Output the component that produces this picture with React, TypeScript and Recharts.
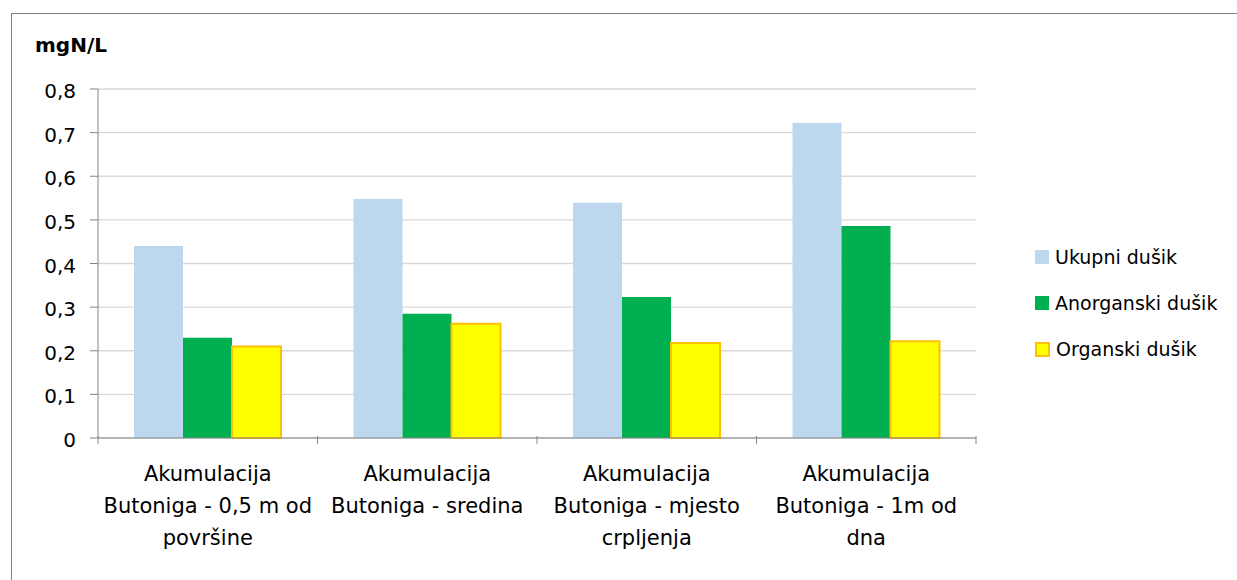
import { Bar, BarChart, CartesianGrid, Legend, XAxis, YAxis } from "recharts";

const categories = [
  "Akumulacija\nButoniga - 0,5 m od\npovršine",
  "Akumulacija\nButoniga - sredina",
  "Akumulacija\nButoniga - mjesto\ncrpljenja",
  "Akumulacija\nButoniga - 1m od\ndna",
];
const ukupni = [0.44, 0.548, 0.539, 0.722];
const anorganski = [0.23, 0.285, 0.323, 0.486];
const organski = [0.21, 0.262, 0.218, 0.222];
const yTicks = [0, 0.1, 0.2, 0.3, 0.4, 0.5, 0.6, 0.7, 0.8];

const series = [
  { key: "ukupni", name: "Ukupni dušik", fill: "#BDD7EE", stroke: "none" },
  { key: "anorganski", name: "Anorganski dušik", fill: "#00B050", stroke: "none" },
  { key: "organski", name: "Organski dušik", fill: "#FFFF00", stroke: "#FFC000" },
];

const data = categories.map((name, i) => ({
  name,
  ukupni: ukupni[i],
  anorganski: anorganski[i],
  organski: organski[i],
}));

const FONT = "'DejaVu Sans', sans-serif";
const AXIS = "#868686";

// category label plus Excel-style tick marks on the band edges
function CategoryTick({ x, y, payload, index, width }: any) {
  const lines = String(payload.value).split("\n");
  const half = width / categories.length / 2;
  const top = y - 10;
  return (
    <g>
      <line x1={x - half} x2={x - half} y1={top} y2={top + 8} stroke={AXIS} />
      {index === categories.length - 1 && (
        <line x1={x + half} x2={x + half} y1={top} y2={top + 8} stroke={AXIS} />
      )}
      <text x={x} y={y} textAnchor="middle" fontFamily={FONT} fontSize={21} fill="#000">
        {lines.map((line, i) => (
          <tspan key={i} x={x} y={y + 35 + i * 32}>
            {line}
          </tspan>
        ))}
      </text>
    </g>
  );
}

function LegendBox() {
  return (
    <div style={{ fontFamily: FONT, fontSize: 19, color: "#000" }}>
      {series.map((s) => (
        <div key={s.key} style={{ display: "flex", alignItems: "center", height: 46 }}>
          <span
            style={{
              display: "inline-block",
              width: s.stroke === "none" ? 14 : 11,
              height: s.stroke === "none" ? 14 : 11,
              background: s.fill,
              border: s.stroke === "none" ? "none" : `2px solid ${s.stroke}`,
              marginRight: 6,
            }}
          />
          <span>{s.name}</span>
        </div>
      ))}
    </div>
  );
}

export default function App() {
  return (
    <div
      style={{
        position: "absolute",
        left: 0,
        top: 0,
        width: 1237,
        height: 580,
        overflow: "hidden",
        background: "#fff",
      }}
    >
      <div
        style={{
          position: "absolute",
          left: 11,
          top: 13,
          width: 1400,
          height: 800,
          borderTop: "1px solid #808080",
          borderLeft: "1px solid #808080",
        }}
      />
      <div
        style={{
          position: "absolute",
          left: 35,
          top: 33,
          fontFamily: FONT,
          fontWeight: "bold",
          fontSize: 20,
        }}
      >
        mgN/L
      </div>
      <BarChart
        width={1237}
        height={580}
        data={data}
        margin={{ top: 89, right: 261, bottom: 0, left: 0 }}
        barSize={49}
        barGap={0}
        style={{ position: "absolute", left: 0, top: 0 }}
      >
        <CartesianGrid stroke="#D9D9D9" vertical={false} strokeWidth={1.3} />
        <XAxis
          dataKey="name"
          height={142}
          stroke={AXIS}
          tickLine={false}
          tick={<CategoryTick />}
          interval={0}
        />
        <YAxis
          width={98}
          domain={[0, 0.8]}
          ticks={yTicks}
          stroke={AXIS}
          tickSize={8}
          tickMargin={14}
          tickFormatter={(v: number) => String(v).replace(".", ",")}
          tick={{ fontFamily: FONT, fontSize: 20, fill: "#000", dy: 2 }}
        />
        <Legend
          layout="horizontal"
          align="center"
          verticalAlign="middle"
          wrapperStyle={{ left: 1035, top: 234, width: 200 }}
          content={<LegendBox />}
        />
        {series.map((s) => (
          <Bar
            key={s.key}
            dataKey={s.key}
            name={s.name}
            fill={s.fill}
            stroke={s.stroke}
            strokeWidth={s.stroke === "none" ? 0 : 2}
            isAnimationActive={false}
          />
        ))}
      </BarChart>
    </div>
  );
}
